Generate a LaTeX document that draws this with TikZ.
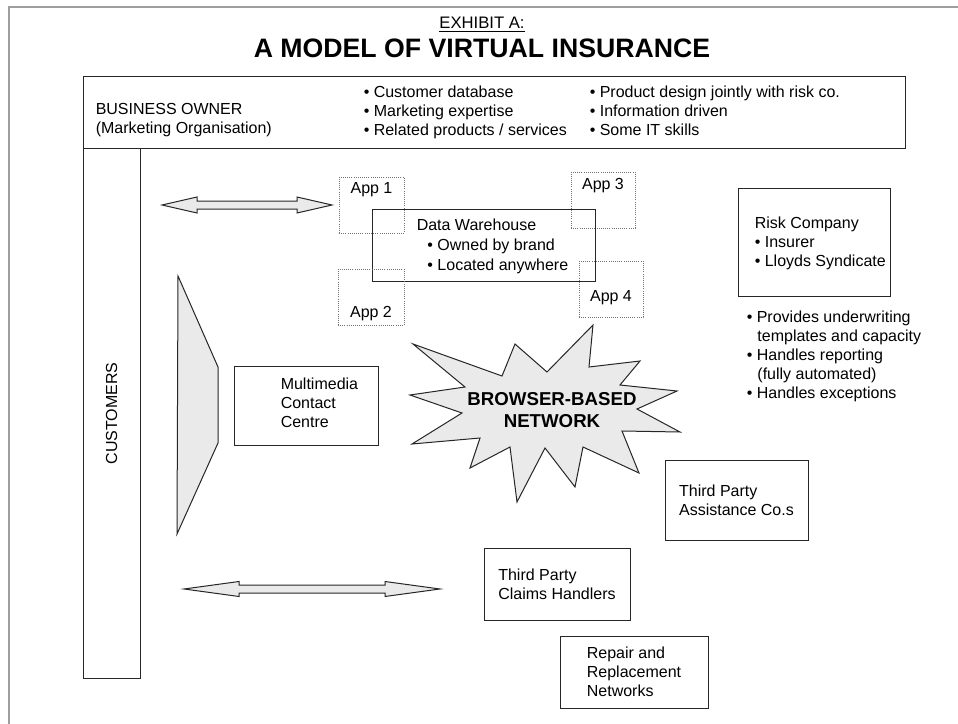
\documentclass[tikz,border=0pt]{standalone}
\usepackage{fontspec}
\setmainfont{Liberation Sans}
\usetikzlibrary{positioning}
\definecolor{burstgray}{RGB}{234,234,234}
\definecolor{framegray}{RGB}{158,158,158}

\begin{document}
\begin{tikzpicture}[
  x=0.75pt, y=-0.75pt,
  every node/.style={font=\fontsize{12}{14.25}\selectfont},
  sz/.style 2 args={minimum width=#1*0.75pt, minimum height=#2*0.75pt},
  box/.style={rectangle, draw=black!85, line width=0.75pt, inner sep=0pt, align=left},
  appbox/.style={rectangle, draw=black!55, densely dotted, line width=0.6pt, inner sep=0pt},
  txt/.style={inner sep=0pt, align=left},
  shade/.style={draw=black!85, line width=0.75pt, fill=burstgray, line join=miter}
]
\useasboundingbox (0,0) rectangle (958,724);
\draw[framegray, line width=1.5pt] (9,724) -- (9,7) -- (958,7);

% heading
\node[txt, anchor=base, font=\fontsize{12.5}{15}\selectfont] (exhibit) at (482,29) {\underline{EXHIBIT A:}};
\node[txt, anchor=base, font=\fontsize{20}{24}\selectfont\bfseries] (title) at (482,58)
  {A MODEL OF VIRTUAL INSURANCE};

% business owner
\node[box, sz={822}{72}] (owner) at (494,113) {};
\node[txt, below right=19.75pt and 9.75pt of owner.north west] (ownername)
  {BUSINESS OWNER\\(Marketing Organisation)};
\node[txt, below right=6.5pt and 210.75pt of owner.north west] (ownerskills)
  {• Customer database\\• Marketing expertise\\• Related products / services};
\node[txt, below right=6.5pt and 380.25pt of owner.north west] (ownerrole)
  {• Product design jointly with risk co.\\• Information driven\\• Some IT skills};

% customers
\node[box, sz={529}{57}, rotate=90] (customers) at (111.5,413.5) {CUSTOMERS};
\draw[shade] (178,276) -- (218,367) -- (218,443) -- (177,534) -- cycle;

% block arrows
\draw[shade] (162,205) -- ++(35,-8) -- ++(0,4) -- ++(100,0) -- ++(0,-4) -- ++(35,8)
  -- ++(-35,8) -- ++(0,-4) -- ++(-100,0) -- ++(0,4) -- cycle;
\draw[shade] (184,589) -- ++(55,-7.5) -- ++(0,3.5) -- ++(146,0) -- ++(0,-3.5) -- ++(55,7.5)
  -- ++(-55,7.5) -- ++(0,-3.5) -- ++(-146,0) -- ++(0,3.5) -- cycle;

% contact centre
\node[box, sz={144}{79}] (contact) at (306,405.5) {};
\node[txt, below right=9.2pt and 35.25pt of contact.north west] (contacttext)
  {Multimedia\\Contact\\Centre};

% warehouse and apps
\node[box, sz={223}{72}] (warehouse) at (483.5,245) {};
\node[txt, below right=7.5pt and 33.75pt of warehouse.north west,
      font=\fontsize{12}{15}\selectfont] (warehousetext)
  {Data Warehouse\\\hspace*{8pt}• Owned by brand\\\hspace*{8pt}• Located anywhere};
\node[appbox, sz={65}{56}] (app1) at (371.5,205) {};
\node[txt, below=4.5pt of app1.north] (app1name) {App 1};
\node[appbox, sz={66}{56}] (app2) at (371,297) {};
\node[txt, above=3.2pt of app2.south] (app2name) {App 2};
\node[appbox, sz={64}{56}] (app3) at (603,200) {};
\node[txt, below=4.5pt of app3.north] (app3name) {App 3};
\node[appbox, sz={64}{56}] (app4) at (611,289) {};
\node[txt, above=9.5pt of app4.south] (app4name) {App 4};

% network
\draw[shade] (413,344) -- (502,376) -- (515,344) -- (547,372) -- (593,325) -- (589,367)
  -- (640,361) -- (620,385) -- (677,391) -- (637,409) -- (680,432) -- (622,431)
  -- (639,473) -- (583,447) -- (575,487) -- (545,448) -- (517,502) -- (510,447)
  -- (470,468) -- (480,438) -- (412,444) -- (462,413) -- (410,395) -- (465,387) -- cycle;
\node[txt, align=center, font=\fontsize{14}{16.5}\selectfont\bfseries] (network) at (552,410.4)
  {BROWSER-BASED\\NETWORK};

% risk company
\node[box, sz={152}{107}] (riskco) at (814,242.5) {};
\node[txt, below right=21pt and 12.75pt of riskco.north west] (riskname)
  {Risk Company\\• Insurer\\• Lloyds Syndicate};
\node[txt, below right=10.5pt and 6.75pt of riskco.south west] (riskroles)
  {• Provides underwriting\\\hspace*{8pt}templates and capacity\\• Handles reporting\\\hspace*{8pt}(fully automated)\\• Handles exceptions};

% third parties
\node[box, sz={143}{80}] (assist) at (736.5,500) {Third Party\\Assistance Co.s};
\node[box, sz={146}{72}] (claims) at (557,584) {Third Party\\Claims Handlers};
\node[box, sz={148}{72}] (repair) at (634,672) {Repair and\\Replacement\\Networks};
\end{tikzpicture}
\end{document}
